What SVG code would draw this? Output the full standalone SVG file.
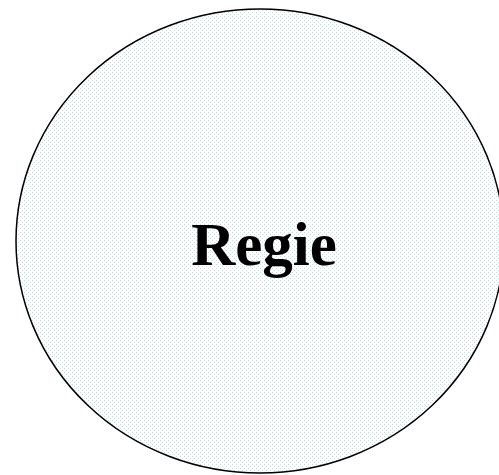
<svg xmlns="http://www.w3.org/2000/svg" width="499" height="475" viewBox="0 0 499 475">
<defs>
<pattern id="dots" width="4" height="4" patternUnits="userSpaceOnUse">
<rect width="4" height="4" fill="#ffffff"/>
<rect x="0" y="0" width="1" height="1" fill="#b6e2e2"/>
<rect x="2" y="2" width="1" height="1" fill="#b6e2e2"/>
</pattern>
</defs>
<style>
.node{fill:url(#dots);stroke:#000;stroke-width:1.5}
.lbl{font-family:"Liberation Serif",serif;font-weight:bold;font-size:61px;fill:#000}
</style>
<rect width="499" height="475" fill="#fff"/>
<g id="connectors"></g>
<g id="regie">
<ellipse class="node" cx="260" cy="241" rx="244" ry="232"/>
<text class="lbl" x="264" y="265" text-anchor="middle">Regie</text>
</g>
</svg>
